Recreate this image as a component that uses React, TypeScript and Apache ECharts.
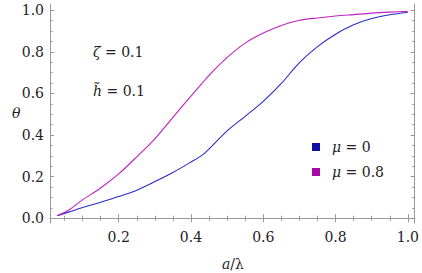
import React, { useEffect, useRef } from "react";
import * as echarts from "echarts";

const xValues = [0.03, 0.06, 0.1, 0.15, 0.2, 0.25, 0.3, 0.35, 0.4, 0.43, 0.45, 0.5, 0.55, 0.6, 0.65, 0.7, 0.75, 0.8, 0.85, 0.9, 0.95, 1.0];
const muZero = [0.012, 0.028, 0.052, 0.077, 0.104, 0.135, 0.176, 0.22, 0.27, 0.302, 0.333, 0.42, 0.49, 0.562, 0.648, 0.748, 0.825, 0.885, 0.93, 0.96, 0.978, 0.99];
const muEight = [0.012, 0.037, 0.088, 0.145, 0.213, 0.295, 0.382, 0.485, 0.587, 0.647, 0.687, 0.773, 0.842, 0.89, 0.927, 0.952, 0.963, 0.972, 0.979, 0.986, 0.991, 0.995];
const seriesNames = ["μ = 0", "μ = 0.8"];
const majorTicks = [0.2, 0.4, 0.6, 0.8, 1.0];
const yMajorTicks = [0.0, 0.2, 0.4, 0.6, 0.8, 1.0];
const xMinorTicks = [0.05, 0.1, 0.15, 0.25, 0.3, 0.35, 0.45, 0.5, 0.55, 0.65, 0.7, 0.75, 0.85, 0.9, 0.95];
const yMinorTicks = [0.05, 0.1, 0.15, 0.25, 0.3, 0.35, 0.45, 0.5, 0.55, 0.65, 0.7, 0.75, 0.85, 0.9, 0.95];

const FONT = "DejaVu Serif";
const FRAME = "#999999";
const TEXT = "#222222";

export default function App() {
  const ref = useRef<HTMLDivElement>(null);
  useEffect(() => {
    if (!ref.current) return;
    const chart = echarts.init(ref.current, null, { renderer: "svg" });
    const xr = { min: 0.01, max: 1.019 };
    const yr = { min: -0.023, max: 1.03 };
    const major = (vals: number[], label: boolean, pos: string, showLine: boolean, isX: boolean) => ({
      type: "value",
      position: pos,
      ...(isX ? xr : yr),
      axisLine: { show: showLine, lineStyle: { color: FRAME, width: 1 } },
      axisTick: { show: true, inside: true, length: 4, customValues: vals, lineStyle: { color: FRAME, width: 1 } },
      axisLabel: label
        ? {
            show: true,
            customValues: vals,
            formatter: (v: number) => v.toFixed(1),
            fontFamily: FONT,
            fontSize: 14,
            color: TEXT,
            margin: isX ? 7 : 6,
          }
        : { show: false },
      splitLine: { show: false },
    });
    const minor = (vals: number[], pos: string, isX: boolean) => ({
      type: "value",
      position: pos,
      ...(isX ? xr : yr),
      axisLine: { show: false },
      axisTick: { show: true, inside: true, length: 2.5, customValues: vals, lineStyle: { color: FRAME, width: 1 } },
      axisLabel: { show: false },
      splitLine: { show: false },
    });
    const rich = { i: { fontFamily: FONT, fontStyle: "italic", fontSize: 14, color: TEXT, fill: TEXT } };
    chart.setOption({
      animation: false,
      backgroundColor: "#ffffff",
      textStyle: { fontFamily: FONT },
      grid: { left: 50, right: 6, top: 4, bottom: 50, containLabel: false },
      xAxis: [
        major(majorTicks, true, "bottom", true, true),
        minor(xMinorTicks, "bottom", true),
        major(majorTicks, false, "top", true, true),
        minor(xMinorTicks, "top", true),
      ],
      yAxis: [
        major(yMajorTicks, true, "left", true, false),
        minor(yMinorTicks, "left", false),
        major(yMajorTicks, false, "right", true, false),
        minor(yMinorTicks, "right", false),
      ],
      legend: {
        show: true,
        orient: "vertical",
        left: 307,
        top: 134,
        icon: "rect",
        itemWidth: 8,
        itemHeight: 8,
        itemGap: 9,
        data: seriesNames.map((n, i) => ({
          name: n,
          itemStyle: { color: i === 0 ? "#1010a8" : "#a808a8" },
        })),
        formatter: (name: string) => name.replace("μ", "{i|μ}"),
        textStyle: {
          fontFamily: FONT,
          fontSize: 14,
          color: TEXT,
          padding: [0, 0, 0, 7],
          lineHeight: 16,
          rich,
        },
      },
      series: [
        {
          name: seriesNames[0],
          type: "line",
          data: xValues.map((x, i) => [x, muZero[i]]),
          showSymbol: false,
          smooth: 0.3,
          lineStyle: { color: "#2a2ac8", width: 1.1 },
          itemStyle: { color: "#1010a8" },
          xAxisIndex: 0,
          yAxisIndex: 0,
        },
        {
          name: seriesNames[1],
          type: "line",
          data: xValues.map((x, i) => [x, muEight[i]]),
          showSymbol: false,
          smooth: 0.3,
          lineStyle: { color: "#c020c0", width: 1.1 },
          itemStyle: { color: "#a808a8" },
          xAxisIndex: 0,
          yAxisIndex: 0,
        },
      ],
      graphic: [
        {
          type: "text",
          left: 93,
          top: 45,
          style: { text: "{i|ζ} = 0.1", fontFamily: FONT, fontSize: 14, fill: TEXT, rich },
        },
        {
          type: "text",
          left: 93,
          top: 84,
          style: { text: "{i|h\u0303} = 0.1", fontFamily: FONT, fontSize: 14, fill: TEXT, rich },
        },
        {
          type: "text",
          left: 12,
          top: 106,
          style: { text: "θ", fontFamily: FONT, fontStyle: "italic", fontSize: 14, fill: TEXT },
        },
        {
          type: "text",
          left: 222,
          top: 257,
          style: { text: "{i|a}/λ", fontFamily: FONT, fontSize: 14, fill: TEXT, rich },
        },
      ],
    });
    return () => chart.dispose();
  }, []);
  return <div ref={ref} style={{ width: 422, height: 273, position: "absolute", left: 0, top: 0 }} />;
}
